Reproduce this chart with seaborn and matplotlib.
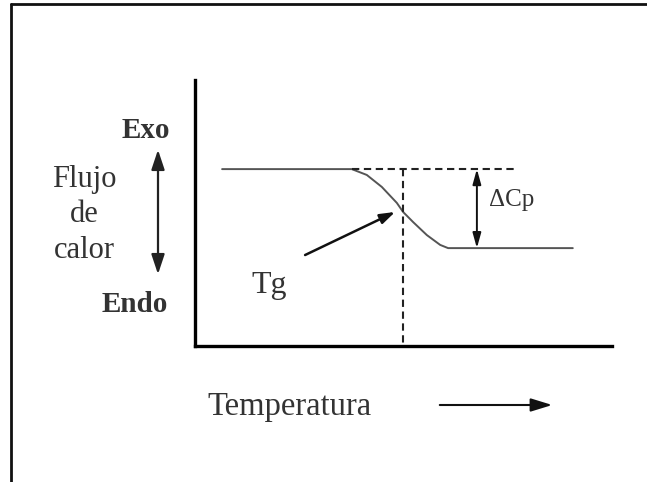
import matplotlib
matplotlib.use("Agg")
import matplotlib.pyplot as plt
from matplotlib.lines import Line2D
import seaborn as sns
import pandas as pd

# ---- data (schematic DSC curve) ----
temperatura = [6.5, 37.6, 41.2, 44.8, 48.4, 49.9, 52.3, 55.6, 58.8, 60.7, 90.6]
flujo_calor = [0.665, 0.665, 0.643, 0.598, 0.538, 0.504, 0.466, 0.417, 0.380, 0.368, 0.368]
tg_temp = 49.9
tg_flow = 0.504
linea_base_fin = 76.7
dcp_temp = 67.6
tg_label_origin = (26.4, 0.342)

label_exo = "Exo"
label_endo = "Endo"
label_flujo = "Flujo\nde\ncalor"
label_tg = "Tg"
label_dcp = "ΔCp"
label_temp = "Temperatura"

sns.set_style("white")
plt.rcParams['font.family'] = ['Liberation Serif', 'DejaVu Serif']

W, H = 647, 482
fig = plt.figure(figsize=(W / 100, H / 100), dpi=100)

def fx(px):
    return px / W

def fy(py):
    return 1 - py / H

ax = fig.add_axes([fx(195), fy(346), (612 - 195) / W, (346 - 80) / H])
df = pd.DataFrame({"Temperatura": temperatura, "Flujo": flujo_calor})
sns.lineplot(data=df, x="Temperatura", y="Flujo", ax=ax, color="#555555",
             linewidth=1.4, sort=False)
ax.set_xlim(0, 100)
ax.set_ylim(0, 1)
ax.set_xticks([])
ax.set_yticks([])
ax.set_xlabel("")
ax.set_ylabel("")
for s in ["top", "right"]:
    ax.spines[s].set_visible(False)
for s in ["left", "bottom"]:
    ax.spines[s].set_color("black")
    ax.spines[s].set_linewidth(2.4)

# dashed reference lines
ax.plot([temperatura[1], linea_base_fin], [flujo_calor[0], flujo_calor[0]],
        linestyle=(0, (3.5, 2.2)), color="#222222", linewidth=1.5)
ax.plot([tg_temp, tg_temp], [flujo_calor[0], 0.01],
        linestyle=(0, (3.5, 2.2)), color="#222222", linewidth=1.5)

# delta Cp double arrow
ax.annotate("", xy=(dcp_temp, flujo_calor[-1]), xytext=(dcp_temp, flujo_calor[0]),
            arrowprops=dict(arrowstyle="<|-|>,head_length=0.9,head_width=0.25",
                            color="#111111", lw=1.4, shrinkA=0, shrinkB=0))
ax.text(dcp_temp + 3.0, 0.548, label_dcp, fontsize=18, color="#333333",
        ha="left", va="center")

# Tg arrow
ax.annotate("", xy=(tg_temp - 1.9, tg_flow), xytext=tg_label_origin,
            arrowprops=dict(arrowstyle="-|>,head_length=0.9,head_width=0.3",
                            color="#111111", lw=1.8, shrinkA=0, shrinkB=0))
fig.text(fx(251), fy(293), label_tg, fontsize=23, color="#333333",
         ha="left", va="baseline")

# left side labels
fig.text(fx(146), fy(138), label_exo, fontsize=21, fontweight="bold",
         color="#333333", ha="center", va="baseline")
fig.text(fx(135), fy(312), label_endo, fontsize=21, fontweight="bold",
         color="#333333", ha="center", va="baseline")
fig.text(fx(84), fy(258), label_flujo, fontsize=22, color="#333333",
         ha="center", va="baseline", linespacing=1.3,
         multialignment="center")
fig.add_artist(matplotlib.patches.FancyArrowPatch(
    (fx(158), fy(147)), (fx(158), fy(277)), transform=fig.transFigure,
    arrowstyle="<|-|>,head_length=6,head_width=2", color="#222222",
    lw=1.6, mutation_scale=2))

# temperature label and arrow
fig.text(fx(207), fy(415), label_temp, fontsize=23.5, color="#333333",
         ha="left", va="baseline")
fig.add_artist(matplotlib.patches.FancyArrowPatch(
    (fx(437), fy(405)), (fx(555), fy(405)), transform=fig.transFigure,
    arrowstyle="-|>,head_length=6.5,head_width=2", color="#111111",
    lw=1.5, mutation_scale=2))

# frame lines (top and left)
fig.add_artist(Line2D([fx(11), 1], [fy(4), fy(4)], color="#111111", lw=2,
                      transform=fig.transFigure))
fig.add_artist(Line2D([fx(11), fx(11)], [fy(4), 0], color="#111111", lw=2,
                      transform=fig.transFigure))

fig.savefig("out.png", dpi=100, facecolor="white")
